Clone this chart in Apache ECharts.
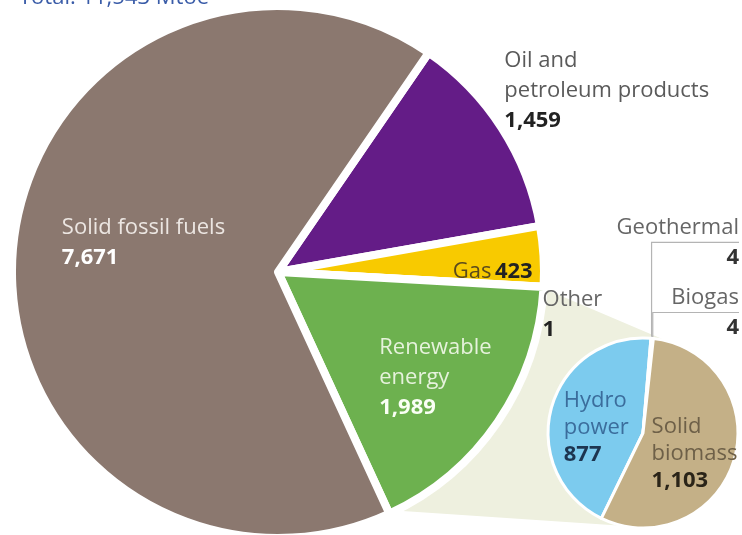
<!DOCTYPE html>
<html>
<head>
<meta charset="utf-8" />
<title></title>
<script src="https://cdn.jsdelivr.net/npm/echarts@6/dist/echarts.min.js"></script>
<style>
	html, body { margin: 0; padding: 0; background: #fff; }
	#main { width: 742px; height: 535px; }
</style>
</head>
<body>
<div id="main"></div>
<script>
// primary energy production, Mtoe
var titleText = 'Total: 11,543 Mtoe';
var mainNames = ['Oil and\npetroleum products', 'Gas', 'Other', 'Renewable\nenergy', 'Solid fossil fuels'];
var mainValues = [1459, 423, 1, 1989, 7671];
// renewable breakdown
var subNames = ['Hydro\npower', 'Geothermal', 'Biogas', 'Solid\nbiomass'];
var subValues = [877, 4, 4, 1103];

var mainColors = ['#641c87', '#f8ca00', '#ffffff', '#6db14f', '#8b786f'];
var subColors = ['#7ccbee', '#c4b087', '#c4b087', '#c4b087'];

var FONT = 'Open Sans';

function fmt(v) {
	return String(v).replace(/\B(?=(\d{3})+(?!\d))/g, ',');
}

// label styles per slice: [name color, value color, inside?]
var mainLabel = [
	['#5a5a5a', '#222', false],
	['#5a4a1c', '#222', true],
	['#666', '#222', false],
	['#e6f2dc', '#fafff5', true],
	['#ece6e2', '#ffffff', true]
];
var mainShift = [[-45, -29], [79, 8], [-51, 27], [45, 29], [1, -18]];
var subLabel = [
	['#3b6d9c', '#1d3550'],
	['#666', '#333'],
	['#666', '#333'],
	['#6e6048', '#2a2418']
];
var subShift = [[2, 8], null, null, [3, 7]];

function richFor(c1, c2, align, lh) {
	return {
		t: { color: c1, fontSize: 22, lineHeight: lh, fontFamily: FONT, align: align },
		b: { color: c2, fontSize: 22, lineHeight: lh, fontFamily: FONT, fontWeight: 'bold', align: align }
	};
}

var mainData = mainValues.map(function (v, i) {
	var st = mainLabel[i];
	var txt = i === 1 ? '{t|' + mainNames[i] + '} {b|' + fmt(v) + '}' : '{t|' + mainNames[i] + '}\n{b|' + fmt(v) + '}';
	return {
		name: mainNames[i],
		value: v,
		itemStyle: { color: mainColors[i] },
		label: {
			position: st[2] ? 'inside' : 'outside',
			formatter: txt,
			rich: richFor(st[0], st[1], 'left', 30)
		}
	};
});

var subData = subValues.map(function (v, i) {
	var st = subLabel[i];
	var side = (i === 1 || i === 2);
	return {
		name: subNames[i],
		value: v,
		itemStyle: { color: subColors[i] },
		label: {
			position: side ? 'outside' : 'inside',
			formatter: '{t|' + subNames[i] + '}\n{b|' + fmt(v) + '}',
			rich: richFor(st[0], st[1], side ? 'right' : 'left', side ? 30 : 27)
		},
		labelLine: { show: side, length: 10, length2: 10, lineStyle: { color: '#b4b4b4', width: 1.2 } }
	};
});

var chart = echarts.init(document.getElementById('main'));
chart.setOption({
	animation: false,
	title: {
		text: titleText,
		left: 14,
		top: -18,
		textStyle: { color: '#3a5ca8', fontSize: 22, fontWeight: 'normal', fontFamily: FONT }
	},
	series: [{
		type: 'pie',
		center: [278, 272],
		radius: 266,
		startAngle: 55.5,
		clockwise: true,
		avoidLabelOverlap: false,
		silent: true,
		itemStyle: { borderColor: '#ffffff', borderWidth: 8 },
		labelLine: { show: false },
		labelLayout: function (p) {
			var s = mainShift[p.dataIndex];
			return { dx: s[0], dy: s[1] };
		},
		data: mainData
	}, {
		type: 'pie',
		center: [643, 433],
		radius: 95,
		startAngle: 244,
		clockwise: true,
		avoidLabelOverlap: false,
		silent: true,
		itemStyle: { borderColor: '#ffffff', borderWidth: 3 },
		labelLayout: function (p) {
			var i = p.dataIndex;
			if (i === 1 || i === 2) {
				var p0 = p.labelLinePoints[0];
				var yLine = p0[1] - (i === 1 ? 96 : 26);
				var xr = chart.getWidth() - 3;
				return {
					x: xr, y: yLine, align: 'right', verticalAlign: 'middle',
					labelLinePoints: [p0, [p0[0], yLine], [xr, yLine]]
				};
			}
			var s = subShift[i];
			return { dx: s[0], dy: s[1] };
		},
		data: subData
	}]
});

// shaded band linking the renewable slice to its breakdown,
// added straight to the renderer so the labels are not laid out twice
function tangent(p, c, r, sign) {
	var dx = c[0] - p[0], dy = c[1] - p[1];
	var d = Math.sqrt(dx * dx + dy * dy);
	var th = Math.atan2(dy, dx) + sign * Math.asin(r / d);
	var len = Math.sqrt(d * d - r * r);
	return [p[0] + len * Math.cos(th), p[1] + len * Math.sin(th)];
}
var model = chart.getModel();
var ren = model.getSeriesByIndex(0).getData().getItemLayout(3);
var sub = model.getSeriesByIndex(1).getData().getItemLayout(0);
var rr = ren.r - 4;
var pa = [ren.cx + rr * Math.cos(ren.startAngle), ren.cy + rr * Math.sin(ren.startAngle)];
var pb = [ren.cx + rr * Math.cos(ren.endAngle), ren.cy + rr * Math.sin(ren.endAngle)];
var sc = [sub.cx, sub.cy], sr = sub.r - 1;
chart.getZr().add(new echarts.graphic.Polygon({
	z: 0,
	silent: true,
	shape: { points: [pa, tangent(pa, sc, sr, -1), sc, tangent(pb, sc, sr, 1), pb] },
	style: { fill: '#eef0df' }
}));
</script>
</body>
</html>
